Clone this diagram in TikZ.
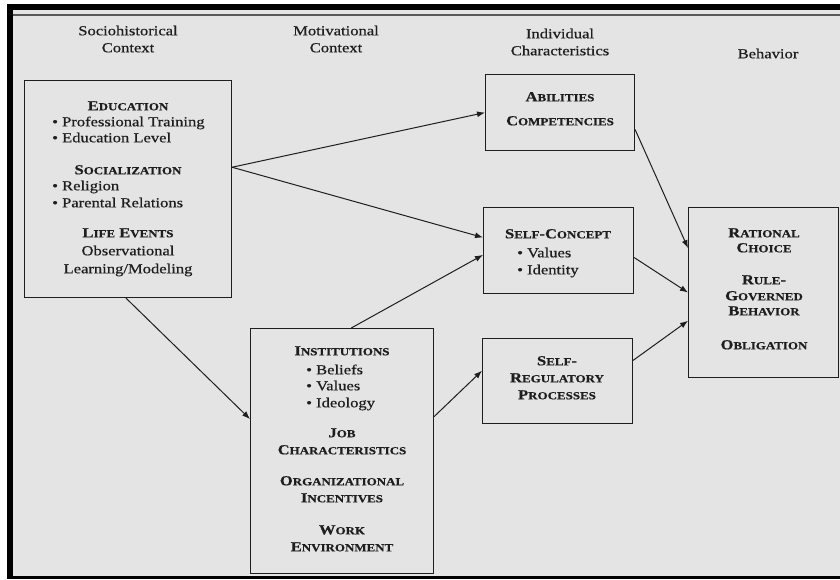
\documentclass[tikz,border=0pt]{standalone}
\usepackage{fontspec}
\setmainfont{Liberation Serif}[FakeStretch=1.2, FakeBold=0.6]
\usetikzlibrary{calc,arrows.meta}
\definecolor{bg}{HTML}{E4E4E4}
\definecolor{ink}{HTML}{1E1E1E}
\newcommand\capsc[2]{#1{\fontsize{10.8}{12}\selectfont #2}}
\tikzset{
  boxnode/.style={draw=ink, line width=1.1pt, anchor=north west, inner sep=0pt},
  hd/.style={inner sep=0pt, anchor=mid, font=\fontsize{13.8}{16}\selectfont\bfseries, text=ink},
  tx/.style={inner sep=0pt, anchor=mid, font=\fontsize{13.8}{16}\selectfont, text=ink},
  bl/.style={inner sep=0pt, anchor=mid west, font=\fontsize{13.8}{16}\selectfont, text=ink},
  colhd/.style={inner sep=0pt, anchor=mid, font=\fontsize{13.8}{16}\selectfont, text=ink, align=center},
  arr/.style={draw=ink, line width=1pt, -{Latex[length=8pt,width=6pt]}}
}
\begin{document}
\begin{tikzpicture}[x=1pt,y=-1pt]
\useasboundingbox (0,0) rectangle (840,579);
\fill[white] (0,0) rectangle (840,579);
\fill[bg] (13,10) rectangle (840,576);
\fill[black] (7,4) rectangle (840,10);
\fill[black] (7,4) rectangle (13,579);
\fill[black] (7,576) rectangle (840,579);
\draw[gray!70!black, line width=1.2pt] (13,15) -- (840,15);

% column headers
\node[colhd] (h1) at (128,33) {Sociohistorical};
\node[colhd] (h1b) at (128,50) {Context};
\node[colhd] (h2) at (336,33) {Motivational};
\node[colhd] (h2b) at (336,50) {Context};
\node[colhd] (h3) at (560,36) {Individual};
\node[colhd] (h3b) at (560,53) {Characteristics};
\node[colhd] (h4) at (768,56) {Behavior};

% boxes
\node[boxnode, minimum width=207pt, minimum height=217pt] (socio) at (24,80) {};
\node[boxnode, minimum width=183pt, minimum height=245pt] (motiv) at (250,328) {};
\node[boxnode, minimum width=149pt, minimum height=76pt] (abil) at (485,74) {};
\node[boxnode, minimum width=150pt, minimum height=86pt] (selfc) at (483,207) {};
\node[boxnode, minimum width=150pt, minimum height=85pt] (selfr) at (482,338) {};
\node[boxnode, minimum width=150pt, minimum height=170pt] (behav) at (688,207) {};

% socio text
\node[hd] (s1) at (128,108) {\capsc{E}{DUCATION}};
\node[bl] (s2) at (52,124) {\textbullet\ Professional Training};
\node[bl] (s3) at (52,140) {\textbullet\ Education Level};
\node[hd] (s4) at (128,172) {\capsc{S}{OCIALIZATION}};
\node[bl] (s5) at (52,188) {\textbullet\ Religion};
\node[bl] (s6) at (52,205) {\textbullet\ Parental Relations};
\node[hd] (s7) at (128,235) {\capsc{L}{IFE} \capsc{E}{VENTS}};
\node[tx] (s8) at (128,253) {Observational};
\node[tx] (s9) at (128,271) {Learning/Modeling};

% motiv text
\node[hd] (m1) at (342,353) {\capsc{I}{NSTITUTIONS}};
\node[bl] (m2) at (306,372) {\textbullet\ Beliefs};
\node[bl] (m3) at (306,388) {\textbullet\ Values};
\node[bl] (m4) at (306,405) {\textbullet\ Ideology};
\node[hd] (m5) at (342,435) {\capsc{J}{OB}};
\node[hd] (m6) at (342,452) {\capsc{C}{HARACTERISTICS}};
\node[hd] (m7) at (342,483) {\capsc{O}{RGANIZATIONAL}};
\node[hd] (m8) at (342,500) {\capsc{I}{NCENTIVES}};
\node[hd] (m9) at (342,532) {\capsc{W}{ORK}};
\node[hd] (m10) at (342,549) {\capsc{E}{NVIRONMENT}};

% abilities
\node[hd] (a1) at (560,99) {\capsc{A}{BILITIES}};
\node[hd] (a2) at (560,123) {\capsc{C}{OMPETENCIES}};

% self-concept
\node[hd] (c1) at (558,236) {\capsc{S}{ELF}-\capsc{C}{ONCEPT}};
\node[bl] (c2) at (517,255) {\textbullet\ Values};
\node[bl] (c3) at (517,272) {\textbullet\ Identity};

% self-regulatory
\node[hd] (r1) at (557,363) {\capsc{S}{ELF}-};
\node[hd] (r2) at (557,380) {\capsc{R}{EGULATORY}};
\node[hd] (r3) at (557,397) {\capsc{P}{ROCESSES}};

% behavior
\node[hd] (b1) at (764,235) {\capsc{R}{ATIONAL}};
\node[hd] (b2) at (764,250) {\capsc{C}{HOICE}};
\node[hd] (b3) at (764,282) {\capsc{R}{ULE}-};
\node[hd] (b4) at (764,298) {\capsc{G}{OVERNED}};
\node[hd] (b5) at (764,313) {\capsc{B}{EHAVIOR}};
\node[hd] (b6) at (764,347) {\capsc{O}{BLIGATION}};

% connectors
\draw[arr] ($(socio.north east)!0.40!(socio.south east)$) -- (abil.west);
\draw[arr] ($(socio.north east)!0.40!(socio.south east)$) -- ($(selfc.north west)!0.35!(selfc.south west)$);
\draw[arr] ($(socio.south west)!0.49!(socio.south east)$) -- ($(motiv.north west)!0.37!(motiv.south west)$);
\draw[arr] ($(motiv.north west)!0.55!(motiv.north east)$) -- ($(selfc.north west)!0.55!(selfc.south west)$);
\draw[arr] ($(motiv.north east)!0.36!(motiv.south east)$) -- ($(selfr.north west)!0.38!(selfr.south west)$);
\draw[arr] ($(abil.north east)!0.72!(abil.south east)$) -- ($(behav.north west)!0.24!(behav.south west)$);
\draw[arr] ($(selfc.north east)!0.58!(selfc.south east)$) -- ($(behav.north west)!0.50!(behav.south west)$);
\draw[arr] ($(selfr.north east)!0.26!(selfr.south east)$) -- ($(behav.north west)!0.665!(behav.south west)$);
\end{tikzpicture}
\end{document}
